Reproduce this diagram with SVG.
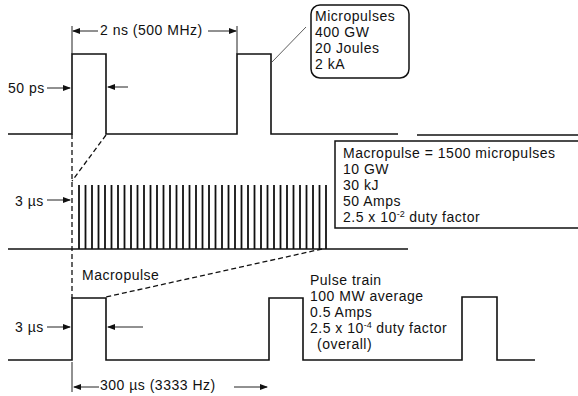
<svg xmlns="http://www.w3.org/2000/svg" width="578" height="396" viewBox="0 0 578 396">
<defs>
<marker id="ah" markerWidth="8" markerHeight="6" refX="7" refY="3" orient="auto" markerUnits="userSpaceOnUse"><path d="M0,0 L8,3 L0,6 z" fill="#111"/></marker>
</defs>
<style>
.w{fill:none;stroke:#111;stroke-width:1.6}
.t{font-family:"Liberation Sans",Arial,sans-serif;font-size:14px;letter-spacing:0.5px;fill:#111}
.d{fill:none;stroke:#111;stroke-width:1.3;stroke-dasharray:5,3}
.dim{fill:none;stroke:#222;stroke-width:1}
.arr{fill:none;stroke:#222;stroke-width:1;marker-end:url(#ah)}
.comb line{stroke:#111;stroke-width:1.8}
.sup{font-size:9px;letter-spacing:0}
.box{fill:none;stroke:#111;stroke-width:1.5}
</style>
<rect width="578" height="396" fill="#fff"/>

<g id="micropulse-wave">
<path class="w" d="M8,134 H72 V54 H106 V134 H237 V54 H271 V134 H398"/>
<path class="w" d="M417,135 H578"/>
</g>

<g id="macropulse-wave">
<path class="w" d="M8,249 H408"/>
<g class="comb">
<line x1="79" y1="185" x2="79" y2="249"/><line x1="85.5" y1="185" x2="85.5" y2="249"/><line x1="92" y1="185" x2="92" y2="249"/><line x1="98.5" y1="185" x2="98.5" y2="249"/><line x1="105" y1="185" x2="105" y2="249"/><line x1="111.5" y1="185" x2="111.5" y2="249"/><line x1="118" y1="185" x2="118" y2="249"/><line x1="124.5" y1="185" x2="124.5" y2="249"/><line x1="131" y1="185" x2="131" y2="249"/><line x1="137.5" y1="185" x2="137.5" y2="249"/><line x1="144" y1="185" x2="144" y2="249"/><line x1="150.5" y1="185" x2="150.5" y2="249"/><line x1="157" y1="185" x2="157" y2="249"/><line x1="163.5" y1="185" x2="163.5" y2="249"/><line x1="170" y1="185" x2="170" y2="249"/><line x1="176.5" y1="185" x2="176.5" y2="249"/><line x1="183" y1="185" x2="183" y2="249"/><line x1="189.5" y1="185" x2="189.5" y2="249"/><line x1="196" y1="185" x2="196" y2="249"/><line x1="202.5" y1="185" x2="202.5" y2="249"/><line x1="209" y1="185" x2="209" y2="249"/><line x1="215.5" y1="185" x2="215.5" y2="249"/><line x1="222" y1="185" x2="222" y2="249"/><line x1="228.5" y1="185" x2="228.5" y2="249"/><line x1="235" y1="185" x2="235" y2="249"/><line x1="241.5" y1="185" x2="241.5" y2="249"/><line x1="248" y1="185" x2="248" y2="249"/><line x1="254.5" y1="185" x2="254.5" y2="249"/><line x1="261" y1="185" x2="261" y2="249"/><line x1="267.5" y1="185" x2="267.5" y2="249"/><line x1="274" y1="185" x2="274" y2="249"/><line x1="280.5" y1="185" x2="280.5" y2="249"/><line x1="287" y1="185" x2="287" y2="249"/><line x1="293.5" y1="185" x2="293.5" y2="249"/><line x1="300" y1="185" x2="300" y2="249"/><line x1="306.5" y1="185" x2="306.5" y2="249"/><line x1="313" y1="185" x2="313" y2="249"/><line x1="319.5" y1="185" x2="319.5" y2="249"/><line x1="326" y1="185" x2="326" y2="249"/>
</g>
</g>

<g id="pulse-train-wave">
<path class="w" d="M8,360 H72 V298 H106 V360 H269 V298 H303 V360 H462 V297 H497 V360 H535"/>
</g>

<g id="micropulses-box">
<rect class="box" x="311" y="5" width="98" height="73" rx="9"/>
<text class="t" x="315" y="21">Micropulses</text>
<text class="t" x="315" y="37">400 GW</text>
<text class="t" x="315" y="53">20 Joules</text>
<text class="t" x="315" y="69">2 kA</text>
</g>

<g id="macropulse-box">
<path class="box" d="M580,141 H335 V228 H580"/>
<text class="t" x="343" y="158">Macropulse = 1500 micropulses</text>
<text class="t" x="343" y="174">10 GW</text>
<text class="t" x="343" y="190">30 kJ</text>
<text class="t" x="343" y="206">50 Amps</text>
<text class="t" x="343" y="222">2.5 x 10<tspan class="sup" dy="-5">-2</tspan><tspan dy="5"> duty factor</tspan></text>
</g>

<g id="pulse-train-label">
<text class="t" x="310" y="285">Pulse train</text>
<text class="t" x="310" y="301">100 MW average</text>
<text class="t" x="310" y="317">0.5 Amps</text>
<text class="t" x="310" y="333">2.5 x 10<tspan class="sup" dy="-5">-4</tspan><tspan dy="5"> duty factor</tspan></text>
<text class="t" x="317" y="349">(overall)</text>
</g>

<g id="labels">
<text class="t" x="100" y="35">2 ns (500 MHz)</text>
<text class="t" x="8" y="93">50 ps</text>
<text class="t" x="15" y="206">3 µs</text>
<text class="t" x="15" y="332">3 µs</text>
<text class="t" x="82" y="280">Macropulse</text>
<text class="t" x="100" y="390">300 µs (3333 Hz)</text>
</g>

<g id="connectors">
<path class="d" d="M72,134 V298"/>
<path class="d" d="M106,135 L72,181"/>
<path class="d" d="M322,249 L106,297"/>
<path class="dim" d="M72,26 V54 M237,26 V54 M72,362 V392"/>
<path class="arr" d="M98,31 H73"/>
<path class="arr" d="M208,31 H236"/>
<path class="arr" d="M47,88 H70"/>
<path class="arr" d="M128,87 H108"/>
<path class="arr" d="M47,200 H70"/>
<path class="arr" d="M47,327 H70"/>
<path class="arr" d="M143,327 H108"/>
<path class="arr" d="M99,387 H74"/>
<path class="arr" d="M234,387 H267"/>
<path fill="none" stroke="#333" stroke-width="0.8" d="M272,62 L306,27"/>
</g>
</svg>
